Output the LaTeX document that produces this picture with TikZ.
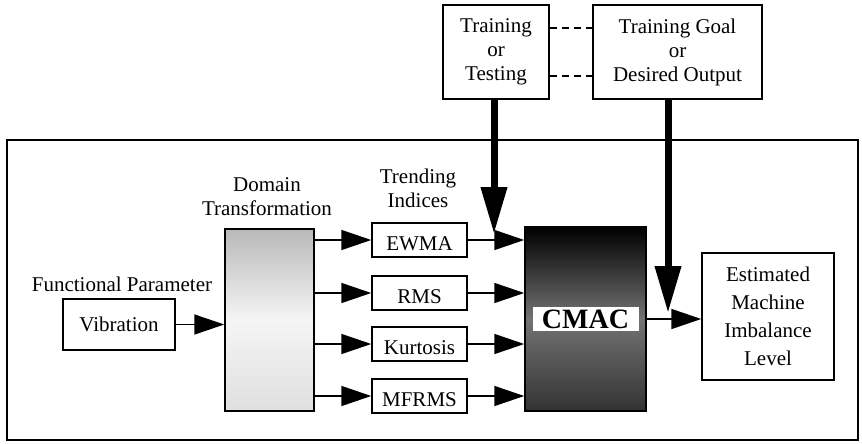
\documentclass[tikz,border=0pt]{standalone}
\usepackage{fontspec}
\setmainfont{Liberation Serif}
\usetikzlibrary{arrows.meta,positioning,calc}

\begin{document}
\begin{tikzpicture}
  [x=1pt, y=-1pt,
  every node/.style={font=\fontsize{21}{24}\selectfont, align=center},
  box/.style={draw, line width=1.5pt, inner sep=0pt},
  idx/.style={box, minimum width=95pt, minimum height=34pt, text height=25pt, text depth=5pt},
  caption/.style={inner sep=0pt},
 ]
  \tikzstyle{thin arrow}=[draw, line width=1.6pt, -{Triangle[length=30pt,width=20pt]}]
  \tikzstyle{fat arrow}=[draw, line width=7pt, -{Triangle[length=47pt,width=25pt]}]
  \tikzstyle{dashed link}=[draw, line width=1.6pt, dash pattern=on 7pt off 5pt]
\useasboundingbox (0,0) rectangle (862,444);

% outer frame
\draw[line width=1.8pt] (7,140) rectangle (858,440);

% upper boxes
\node[box, minimum width=106pt, minimum height=94pt] (tot) at (496,52) {Training\\or\\Testing};
\node[box, minimum width=169pt, minimum height=94pt] (goal) at (677.5,52) {Training Goal\\or\\Desired Output};

% input side
\node[box, minimum width=112pt, minimum height=51pt] (vib) at (119,324.5) {Vibration};
\node[caption] (funclabel) at (122,284) {Functional Parameter};
\node[box, minimum width=89pt, minimum height=182pt,
      top color=gray!55, bottom color=gray!25, middle color=gray!8] (dom) at (269.5,320) {};
\node[caption] (domlabel) at (267,197) {Domain\\Transformation};

% trending indices
\node[caption] (trendlabel) at (418,188) {Trending\\Indices};
\node[idx] (ewma) at (419.5,240) {EWMA};
\node[idx] (rms) at (419.5,293) {RMS};
\node[idx] (kurt) at (419.5,344) {Kurtosis};
\node[idx] (mfrms) at (419.5,396) {MFRMS};

% network and output
\node[box, minimum width=121pt, minimum height=184pt,
      top color=black, bottom color=black!80, middle color=black!55] (cmac) at (585.5,319) {};
\node[fill=white, inner sep=3pt, minimum width=106pt,
      font=\fontsize{28}{30}\selectfont\bfseries] (cmaclabel) at (cmac) {CMAC};
\node[box, minimum width=132pt, minimum height=127pt,
      font=\fontsize{21}{28}\selectfont] (est) at (768,316.5) {Estimated\\Machine\\Imbalance\\Level};

\coordinate (tottip) at (494,234);
\coordinate (goalfoot) at (668,99);
\coordinate (goaltip) at (668,313);

% connectors
\draw[thin arrow] (vib) -- (vib -| dom.west);
\foreach \n in {ewma,rms,kurt,mfrms}{
  \draw[thin arrow] (dom.east |- \n.west) -- (\n.west);
  \draw[thin arrow] (\n.east) -- (\n.east -| cmac.west);
}
\draw[thin arrow] (cmac.east) -- (cmac.east -| est.west);
\draw[fat arrow] (tot.south -| tottip) -- (tottip);
\draw[fat arrow] (goalfoot) -- (goaltip);
\draw[dashed link] ([yshift=24pt]tot.east) -- ([yshift=24pt]tot.east -| goal.west);
\draw[dashed link] ([yshift=-24pt]tot.east) -- ([yshift=-24pt]tot.east -| goal.west);
\end{tikzpicture}
\end{document}
